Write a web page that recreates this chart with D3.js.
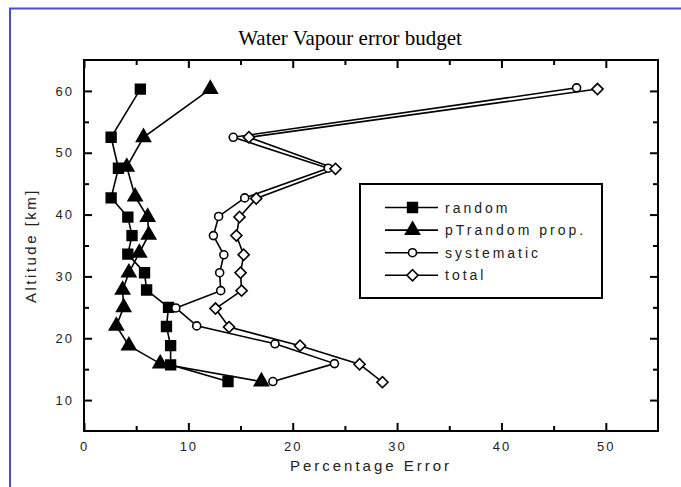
<!DOCTYPE html>
<html>
<head>
<meta charset="utf-8">
<script src="https://cdn.jsdelivr.net/npm/d3@7"></script>
<style>
  body { margin: 0; background: #fff; }
  text { font-family: "Liberation Sans", Arial, sans-serif; }
</style>
</head>
<body>
<div id="chart"></div>
<script>
//Datos (altitud en km, error en %)
const altRandom = [60.3, 52.5, 47.5, 42.7, 39.6, 36.6, 33.6, 30.6, 27.8, 25.0, 21.9, 18.8, 15.7, 13.0];
const valRandom = [5.4, 2.6, 3.3, 2.6, 4.2, 4.6, 4.2, 5.8, 6.0, 8.1, 7.9, 8.3, 8.3, 13.8];

const altPTrandom = [60.3, 52.5, 47.7, 42.9, 39.6, 36.7, 33.8, 30.6, 27.8, 25.0, 22.0, 18.8, 15.9, 13.0];
const valPTrandom = [12.1, 5.7, 4.1, 4.9, 6.1, 6.2, 5.3, 4.3, 3.7, 3.8, 3.1, 4.3, 7.3, 17.0];

const altSystematic = [60.5, 52.5, 47.5, 42.7, 39.7, 36.6, 33.5, 30.6, 27.7, 24.9, 22.0, 19.1, 15.9, 13.0];
const valSystematic = [47.2, 14.3, 23.4, 15.4, 12.9, 12.4, 13.4, 13.0, 13.1, 8.8, 10.8, 18.3, 24.0, 18.1];

const altTotal = [60.3, 52.5, 47.4, 42.6, 39.6, 36.6, 33.5, 30.6, 27.7, 24.8, 21.8, 18.8, 15.8, 12.9];
const valTotal = [49.2, 15.8, 24.1, 16.5, 14.9, 14.6, 15.3, 15.0, 15.1, 12.6, 13.9, 20.7, 26.4, 28.6];

const seriesNames = ['random', 'pTrandom prop.', 'systematic', 'total'];
const xTicks = [0, 10, 20, 30, 40, 50];
const yTicks = [10, 20, 30, 40, 50, 60];

//Dimensiones
const W = 681, H = 487;
const margin = {top: 60, right: 23, bottom: 56, left: 84};
const width = W - margin.left - margin.right,
      height = H - margin.top - margin.bottom;

const svg = d3.select('#chart').append('svg')
    .attr('width', W).attr('height', H);

svg.append('rect').attr('width', W).attr('height', H).attr('fill', '#fff');

//Marco azul
svg.append('path')
    .attr('d', 'M10,' + H + 'V8.5H' + W)
    .attr('fill', 'none').attr('stroke', '#4a4ad8').attr('stroke-width', 2);

svg.append('text')
    .attr('x', 350).attr('y', 45)
    .attr('text-anchor', 'middle')
    .style('font-family', '"Liberation Serif", "Times New Roman", serif')
    .style('font-size', '21px')
    .text('Water Vapour error budget');

const g = svg.append('g').attr('transform', 'translate(' + margin.left + ',' + margin.top + ')');

const x = d3.scaleLinear().domain([0, 55]).range([0, width]);
const y = d3.scaleLinear().domain([5, 65]).range([height, 0]);

const minorX = d3.range(5, 55, 10);
const minorY = d3.range(15, 65, 10);

function styleAxis(sel) {
    sel.select('.domain').remove();
    sel.selectAll('line').attr('stroke', '#000').attr('stroke-width', 2);
    sel.selectAll('text')
        .style('font-size', '13px')
        .style('letter-spacing', '2px')
        .attr('fill', '#222');
}

//Ejes con marcas hacia dentro
g.append('g').attr('transform', 'translate(0,' + height + ')')
    .call(d3.axisBottom(x).tickValues(xTicks).tickSize(-8).tickPadding(11).tickFormat(d3.format('d')))
    .call(styleAxis);
g.append('g').attr('transform', 'translate(0,' + height + ')')
    .call(d3.axisBottom(x).tickValues(minorX).tickSize(-5).tickFormat(''))
    .call(styleAxis);
g.append('g')
    .call(d3.axisTop(x).tickValues(xTicks).tickSize(-8).tickFormat(''))
    .call(styleAxis);
g.append('g')
    .call(d3.axisTop(x).tickValues(minorX).tickSize(-5).tickFormat(''))
    .call(styleAxis);
g.append('g')
    .call(d3.axisLeft(y).tickValues(yTicks).tickSize(-8).tickPadding(10).tickFormat(d3.format('d')))
    .call(styleAxis);
g.append('g')
    .call(d3.axisLeft(y).tickValues(minorY).tickSize(-5).tickFormat(''))
    .call(styleAxis);
g.append('g').attr('transform', 'translate(' + width + ',0)')
    .call(d3.axisRight(y).tickValues(yTicks).tickSize(-8).tickFormat(''))
    .call(styleAxis);
g.append('g').attr('transform', 'translate(' + width + ',0)')
    .call(d3.axisRight(y).tickValues(minorY).tickSize(-5).tickFormat(''))
    .call(styleAxis);

g.append('rect')
    .attr('width', width).attr('height', height)
    .attr('fill', 'none').attr('stroke', '#000').attr('stroke-width', 2);

//Títulos de ejes
svg.append('text')
    .attr('x', margin.left + width / 2).attr('y', 471)
    .attr('text-anchor', 'middle')
    .style('font-size', '15px').style('letter-spacing', '3px')
    .attr('fill', '#222')
    .text('Percentage Error');

svg.append('text')
    .attr('transform', 'translate(36,' + (margin.top + height / 2) + ') rotate(-90)')
    .attr('text-anchor', 'middle')
    .style('font-size', '15px').style('letter-spacing', '2.5px')
    .attr('fill', '#222')
    .text('Altitude [km]');

//Series (el rombo es un cuadrado girado 45 grados)
const series = [
    {name: seriesNames[0], alt: altRandom, val: valRandom, symbol: d3.symbolSquare, size: 95, rot: 0, fill: '#000'},
    {name: seriesNames[1], alt: altPTrandom, val: valPTrandom, symbol: d3.symbolTriangle, size: 85, rot: 0, fill: '#000'},
    {name: seriesNames[2], alt: altSystematic, val: valSystematic, symbol: d3.symbolCircle, size: 50, rot: 0, fill: '#fff'},
    {name: seriesNames[3], alt: altTotal, val: valTotal, symbol: d3.symbolSquare, size: 62, rot: 45, fill: '#fff'}
];

const line = d3.line().x(d => x(d[0])).y(d => y(d[1]));

series.forEach(function(s) {
    const pts = s.val.map((v, i) => [v, s.alt[i]]);
    g.append('path').datum(pts)
        .attr('d', line)
        .attr('fill', 'none').attr('stroke', '#000').attr('stroke-width', 1.6);
});

series.forEach(function(s) {
    const pts = s.val.map((v, i) => [v, s.alt[i]]);
    g.selectAll(null).data(pts).enter().append('path')
        .attr('transform', d => 'translate(' + x(d[0]) + ',' + y(d[1]) + ') rotate(' + s.rot + ')')
        .attr('d', d3.symbol().type(s.symbol).size(s.size))
        .attr('fill', s.fill).attr('stroke', '#000').attr('stroke-width', 1.6);
});

//Leyenda
const leg = svg.append('g').attr('transform', 'translate(360,184)');
leg.append('rect').attr('width', 242).attr('height', 114)
    .attr('fill', '#fff').attr('stroke', '#000').attr('stroke-width', 2);

series.forEach(function(s, i) {
    const ly = 23.5 + i * 22.6;
    leg.append('line').attr('x1', 25).attr('x2', 78).attr('y1', ly).attr('y2', ly)
        .attr('stroke', '#000').attr('stroke-width', 1.6);
    leg.append('path')
        .attr('transform', 'translate(52.5,' + ly + ') rotate(' + s.rot + ')')
        .attr('d', d3.symbol().type(s.symbol).size(s.size))
        .attr('fill', s.fill).attr('stroke', '#000').attr('stroke-width', 1.6);
    leg.append('text').attr('x', 85).attr('y', ly + 5)
        .style('font-size', '14px').style('letter-spacing', '3px')
        .attr('fill', '#222')
        .text(s.name);
});
</script>
</body>
</html>
